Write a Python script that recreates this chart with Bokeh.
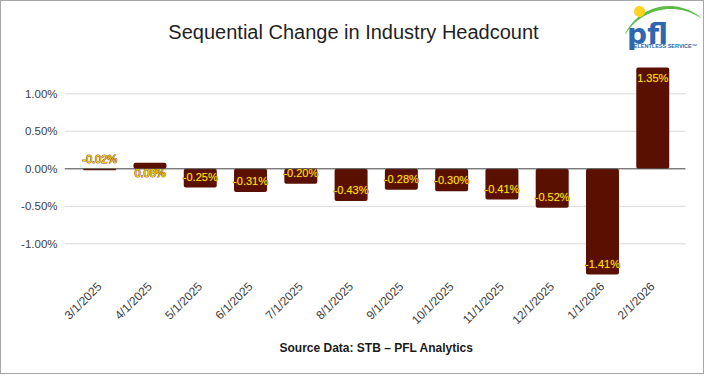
import numpy as np
from bokeh.plotting import figure
from bokeh.models import (ColumnDataSource, Range1d, FixedTicker, PrintfTickFormatter,
                          Label, PolyAnnotation, Title)
from bokeh.core.properties import value
from bokeh.embed import file_html
from bokeh.resources import INLINE

# ---- data ----
categories = ["3/1/2025", "4/1/2025", "5/1/2025", "6/1/2025", "7/1/2025", "8/1/2025",
              "9/1/2025", "10/1/2025", "11/1/2025", "12/1/2025", "1/1/2026", "2/1/2026"]
change_pct = [-0.02, 0.08, -0.25, -0.31, -0.20, -0.43, -0.28, -0.30, -0.41, -0.52, -1.41, 1.35]
y_ticks = [-1.0, -0.5, 0.0, 0.5, 1.0]

title_text = "Sequential Change in Industry Headcount"
source_text = "Source Data: STB \u2013 PFL Analytics"

FONT = "Liberation Sans"
BAR = "#5A1000"

# plotting-area extent (data units) for grid / zero lines
X_LO, X_HI = -0.70, 11.65

xs = list(range(len(categories)))
src = ColumnDataSource(dict(
    x=xs,
    v=change_pct,
    label=[f"{v:.2f}%" for v in change_pct],
    yoff=[10 if v > 0 else -11 for v in change_pct],
))
grid_src = ColumnDataSource(dict(y=[t for t in y_ticks if t != 0]))

p = figure(width=704, height=374, output_backend="svg", toolbar_location=None,
           x_range=Range1d(X_LO, 12.049), y_range=Range1d(-1.489, 2.231),
           min_border_left=63, min_border_right=0, min_border_top=0, min_border_bottom=95,
           background_fill_color="white", border_fill_color="white")
p.styles = {"border": "1px solid #a6a6a6"}
p.outline_line_color = None
p.xgrid.grid_line_color = None
p.ygrid.grid_line_color = None

# gridlines
p.segment(x0=X_LO, x1=X_HI, y0="y", y1="y", source=grid_src,
          line_color="#d9d9d9", line_width=1)

# bars
p.vbar(x="x", top="v", bottom=0, width=0.656, source=src,
       fill_color=BAR, line_color=None, border_radius=2)

# zero line
p.segment(x0=[X_LO], x1=[X_HI], y0=[0], y1=[0], line_color="#404040", line_width=1)

# data labels: halo + yellow text
p.text(x="x", y="v", text="label", y_offset="yoff", source=src,
       text_align="center", text_baseline="middle",
       text_color="#7A2A12", text_alpha=0.85, text_outline_color="#7A2A12",
       text_font=value(FONT), text_font_size="11px")
p.text(x="x", y="v", text="label", y_offset="yoff", source=src,
       text_align="center", text_baseline="middle",
       text_color="#FFE600",
       text_font=value(FONT), text_font_size="11px")

# axes
p.yaxis.ticker = FixedTicker(ticks=y_ticks)
p.yaxis.formatter = PrintfTickFormatter(format="%.2f%%")
p.yaxis.axis_line_color = None
p.yaxis.major_tick_line_color = None
p.yaxis.minor_tick_line_color = None
p.yaxis.major_label_standoff = 1
p.yaxis.major_label_text_font = FONT
p.yaxis.major_label_text_font_size = "11.5px"
p.yaxis.major_label_text_color = "#404040"

p.xaxis.ticker = FixedTicker(ticks=xs)
p.xaxis.major_label_overrides = {i: c for i, c in enumerate(categories)}
p.xaxis.major_label_orientation = np.pi / 4
p.xaxis.axis_line_color = None
p.xaxis.major_tick_line_color = None
p.xaxis.minor_tick_line_color = None
p.xaxis.major_label_standoff = -2
p.xaxis.major_label_text_font = FONT
p.xaxis.major_label_text_font_size = "12px"
p.xaxis.major_label_text_color = "#404040"

# source note below the axis (left-aligned, offset from frame left)
p.add_layout(Title(text=source_text, align="left", offset=215, standoff=6,
                   text_font=FONT, text_font_size="12px", text_font_style="bold",
                   text_color="#1a1a1a"), "below")

# screen units are relative to the frame (left, bottom); convert from page pixels
FL, FB = 64, 280
def sx(px):
    return px - FL
def sy(py):
    return FB - py

p.add_layout(Label(x=sx(353), y=sy(31), x_units="screen", y_units="screen", text=title_text,
                   text_align="center", text_baseline="middle", text_font=FONT,
                   text_font_size="20px", text_color="#1f1f1f"))

# ---- logo (decoration) ----
t = np.linspace(np.radians(53), np.radians(151), 50)
w = 0.6 + 2.6 * np.sin(np.pi * (t - t[0]) / (t[-1] - t[0]))
cx, cy, r = 669.5, 58.0, 51.0
ox = cx + (r + w / 2) * np.cos(t)
oy = cy - (r + w / 2) * np.sin(t)
ix = (cx + (r - w / 2) * np.cos(t))[::-1]
iy = (cy - (r - w / 2) * np.sin(t))[::-1]
p.add_layout(PolyAnnotation(xs=[sx(v) for v in np.concatenate([ox, ix])],
                            ys=[sy(v) for v in np.concatenate([oy, iy])],
                            xs_units="screen", ys_units="screen",
                            fill_color="#5DBB46", fill_alpha=1, line_color=None))
c = np.linspace(0, 2 * np.pi, 30)
p.add_layout(PolyAnnotation(xs=[sx(639 + 5.5 * np.cos(a)) for a in c],
                            ys=[sy(11 + 5.5 * np.sin(a)) for a in c],
                            xs_units="screen", ys_units="screen",
                            fill_color="#FFD21F", fill_alpha=1, line_color=None))
p.add_layout(Label(x=sx(647), y=sy(34), x_units="screen", y_units="screen", text="pfl",
                   text_align="center", text_baseline="alphabetic", text_font="DejaVu Sans",
                   text_font_style="bold", text_font_size="28px", text_color="#2E66B0"))
p.add_layout(Label(x=sx(663), y=sy(45), x_units="screen", y_units="screen",
                   text="RELENTLESS SERVICE\u2122",
                   text_align="center", text_baseline="middle", text_font=FONT,
                   text_font_style="bold", text_font_size="5.5px", text_color="#2E66B0"))

open("out.html", "w").write(file_html(p, INLINE))
